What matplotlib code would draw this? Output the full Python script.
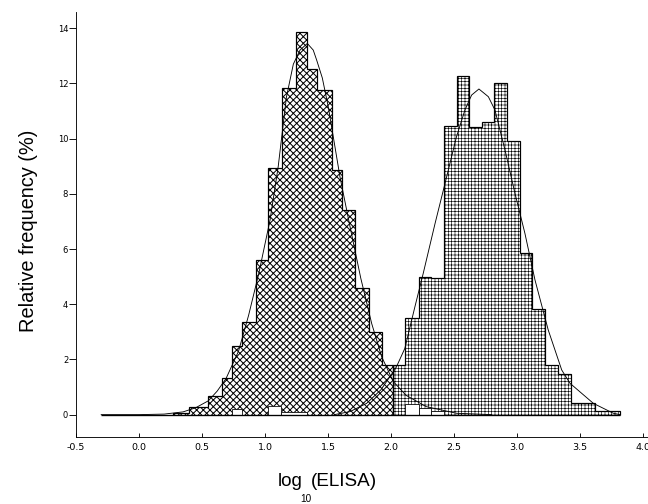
import matplotlib
matplotlib.use("Agg")
import matplotlib.pyplot as plt
import numpy as np

# log10(ELISA) histogram, first population (cross-hatched)
edges_a = [0.27, 0.397, 0.545, 0.656, 0.741, 0.817, 0.930, 1.021, 1.133, 1.244,
           1.336, 1.410, 1.529, 1.609, 1.718, 1.825, 1.925, 2.018]
freq_a = [0.06, 0.29, 0.69, 1.34, 2.47, 3.37, 5.6, 8.93, 11.83, 13.88,
          12.51, 11.76, 8.87, 7.42, 4.58, 3.01, 1.8]

# second population (grid hatched)
edges_b = [2.018, 2.115, 2.222, 2.321, 2.423, 2.524, 2.621, 2.720, 2.820, 2.923,
           3.024, 3.121, 3.222, 3.323, 3.426, 3.524, 3.619, 3.718, 3.817]
freq_b = [1.8, 3.5, 5.0, 4.95, 10.47, 12.27, 10.43, 10.6, 12.0, 9.9,
          5.85, 3.83, 1.8, 1.48, 0.43, 0.43, 0.15, 0.15]

# small overlapping bins of each population (drawn open)
tail_lo = [0.741, 1.021, 1.127, 2.115, 2.222, 2.321]
tail_hi = [0.815, 1.127, 1.330, 2.222, 2.321, 2.423]
tail_h = [0.2, 0.3, 0.1, 0.4, 0.25, 0.12]

# fitted curves
curve_a_x = [-0.30, 0.0, 0.2, 0.35, 0.45, 0.55, 0.62, 0.69, 0.79, 0.87, 0.95, 1.04,
             1.105, 1.17, 1.225, 1.278, 1.336, 1.383, 1.41, 1.455, 1.502, 1.542,
             1.595, 1.675, 1.76, 1.847, 1.926, 2.018, 2.12, 2.28, 2.52, 2.8]
curve_a_y = [0.0, 0.0, 0.02, 0.1, 0.25, 0.5, 0.85, 1.3, 2.3, 3.6, 5.1, 7.05,
             8.99, 11.5, 12.7, 13.21, 13.45, 13.21, 12.85, 12.2, 11.16, 10.07,
             8.62, 6.81, 4.95, 3.3, 2.1, 1.2, 0.7, 0.29, 0.05, 0.0]

curve_b_x = [1.55, 1.675, 1.807, 1.92, 2.04, 2.11, 2.19, 2.256, 2.35, 2.429, 2.52,
             2.587, 2.64, 2.698, 2.773, 2.825, 2.905, 2.984, 3.063, 3.143, 3.248,
             3.355, 3.42, 3.606, 3.765, 3.82]
curve_b_y = [0.0, 0.11, 0.41, 0.9, 1.7, 2.4, 3.91, 5.12, 6.93, 8.38, 10.07,
             11.04, 11.58, 11.8, 11.52, 11.04, 9.59, 8.02, 6.57, 4.88, 3.07,
             1.62, 1.14, 0.41, 0.05, 0.0]

x_ticks = [-0.5, 0.0, 0.5, 1.0, 1.5, 2.0, 2.5, 3.0, 3.5, 4.0]
y_ticks = [0, 2, 4, 6, 8, 10, 12, 14]

DPI = 80
tick_font = ['Liberation Sans Narrow', 'DejaVu Sans']
label_font = ['Liberation Sans', 'DejaVu Sans']

fig = plt.figure(figsize=(648 / DPI, 504 / DPI), dpi=DPI)
ax = fig.add_axes([76 / 648, 67 / 504, 572 / 648, 425 / 504])

# histograms (hatch line width is picked up when the patch is made)
with plt.rc_context({'hatch.linewidth': 0.9}):
    ax.stairs(freq_a, edges_a, fill=True, facecolor='white', edgecolor='black',
              hatch='xxxx', linewidth=1.1, zorder=2)
with plt.rc_context({'hatch.linewidth': 0.55}):
    ax.stairs(freq_b, edges_b, fill=True, facecolor='white', edgecolor='black',
              hatch='++++', linewidth=1.1, zorder=3)
widths = np.array(tail_hi) - np.array(tail_lo)
ax.bar(tail_lo, tail_h, width=widths, align='edge', color='white',
       edgecolor='black', linewidth=0.7, zorder=4)

# fitted curves + baseline
ax.plot(curve_a_x, curve_a_y, color='black', linewidth=0.8, zorder=5)
ax.plot(curve_b_x, curve_b_y, color='black', linewidth=0.8, zorder=5)
ax.hlines(0, curve_a_x[0], curve_b_x[-1], color='black', linewidth=1.2, zorder=5)

ax.set_xlim(-0.5, 4.04)
ax.set_ylim(-0.81, 14.59)
ax.spines['top'].set_visible(False)
ax.spines['right'].set_visible(False)

ax.set_xticks(x_ticks)
ax.set_xticklabels(['%.1f' % v for v in x_ticks], family=tick_font, fontsize=8.5)
ax.set_yticks(y_ticks)
ax.set_yticklabels([str(v) for v in y_ticks], family=tick_font, fontsize=7.5)
ax.tick_params(axis='x', direction='in', length=4, pad=5)
ax.tick_params(axis='y', direction='out', length=6, pad=1)

# axis titles
fig.text(29 / 648, 1 - 231 / 504, 'Relative frequency (%)', rotation=90,
         ha='center', va='center', fontsize=18, family=label_font)
fig.text(303 / 648, 1 - 486 / 504, 'log', ha='right', va='baseline',
         fontsize=17, family=label_font)
fig.text(306 / 648, 1 - 502 / 504, '10', ha='center', va='baseline',
         fontsize=9, family=label_font)
fig.text(311 / 648, 1 - 486 / 504, '(ELISA)', ha='left', va='baseline',
         fontsize=17, family=label_font)

fig.savefig('out.png', dpi=DPI)
